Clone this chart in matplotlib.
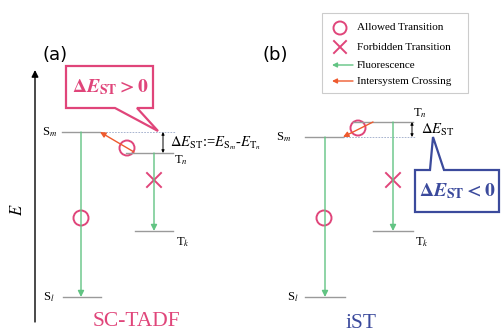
import numpy as np
import matplotlib
matplotlib.use("Agg")
import matplotlib.pyplot as plt
from matplotlib.patches import Polygon, Circle

plt.rcParams['mathtext.fontset'] = 'stix'
plt.rcParams['font.family'] = ['Liberation Serif', 'DejaVu Serif']

PINK = '#e0457a'
BLUE = '#3b4a9c'
GREEN = '#62c483'
RED = '#ee5a2e'
GREY = '#9a9a9a'

# energy levels: label, x-start, x-end, y (pixel space, y down)
levels_a = [("S$_{m}$", 62, 100, 132), ("T$_{n}$", 126, 173, 153),
            ("T$_{k}$", 135, 173, 231), ("S$_{l}$", 63, 101, 297)]
levels_b = [("S$_{m}$", 305, 343, 137), ("T$_{n}$", 353, 413, 122),
            ("T$_{k}$", 373, 413, 231), ("S$_{l}$", 305, 345, 297)]

legend_labels = ["Allowed Transition", "Forbidden Transition",
                 "Fluorescence", "Intersystem Crossing"]

fig = plt.figure(figsize=(5.01, 3.36), dpi=100)
ax = fig.add_axes([0, 0, 1, 1])
ax.set_xlim(0, 501)
ax.set_ylim(336, 0)
ax.axis('off')


def level(x0, x1, y):
    ax.plot([x0, x1], [y, y], color=GREY, lw=1)


def arrow(x0, y0, x1, y1, c, ms=9):
    ax.annotate("", xy=(x1, y1), xytext=(x0, y0),
                arrowprops=dict(arrowstyle='-|>', color=c, lw=1,
                                mutation_scale=ms, shrinkA=0, shrinkB=0))


def circ(x, y, r=7.5):
    ax.add_patch(Circle((x, y), r, fill=False, ec=PINK, lw=1.4))


def cross(x, y, s=7):
    ax.plot([x - s, x + s], [y - s, y + s], color=PINK, lw=1.4)
    ax.plot([x - s, x + s], [y + s, y - s], color=PINK, lw=1.4)


def dbl(x, y0, y1):
    ax.annotate("", xy=(x, y1), xytext=(x, y0),
                arrowprops=dict(arrowstyle='<|-|>', color='k', lw=0.7,
                                mutation_scale=4, shrinkA=0, shrinkB=0))


# energy axis
arrow(35, 322, 35, 70, 'k', ms=10)
ax.text(18, 210, "$E$", rotation=90, fontsize=12, ha='center', va='center')

# ---------- (a) SC-TADF ----------
ax.text(55, 55, "(a)", fontsize=13, family='DejaVu Sans', ha='center', va='center')
for lab, x0, x1, y in levels_a:
    level(x0, x1, y)
ax.text(50, 132, levels_a[0][0], fontsize=9, ha='center', va='center')
ax.text(181, 160, levels_a[1][0], fontsize=9, ha='center', va='center')
ax.text(183, 242, levels_a[2][0], fontsize=9, ha='center', va='center')
ax.text(49, 297, levels_a[3][0], fontsize=9, ha='center', va='center')
ax.plot([100, 175], [132, 132], color='#9aa8c8', lw=0.6, ls=(0, (2, 1.5)))

arrow(81, 132, 81, 297, GREEN)
circ(81, 218)
arrow(154, 153, 154, 231, GREEN)
cross(154, 180)
arrow(134, 152, 100, 132, RED, ms=8)
circ(127, 148)
dbl(163, 132, 153)
ax.text(170, 143, r"$\Delta E_{\rm ST}$:=$E_{{\rm S}_m}$-$E_{{\rm T}_n}$",
        fontsize=10.5, ha='left', va='center')

ax.add_patch(Polygon([(66, 66), (153, 66), (153, 108), (137, 108), (158, 131),
                      (115, 108), (66, 108)], closed=True, fc='white',
                     ec=PINK, lw=1.6, joinstyle='miter'))
ax.text(110, 87, r"$\mathbf{\Delta}\boldsymbol{E}_{\mathbf{ST}}\mathbf{>0}$",
        fontsize=14, color=PINK, ha='center', va='center')
ax.text(136, 322, "SC-TADF", fontsize=15.5, color=PINK, ha='center', va='center')

# ---------- (b) iST ----------
ax.text(275, 55, "(b)", fontsize=13, family='DejaVu Sans', ha='center', va='center')
for lab, x0, x1, y in levels_b:
    level(x0, x1, y)
ax.text(284, 137, levels_b[0][0], fontsize=9, ha='center', va='center')
ax.text(420, 113, levels_b[1][0], fontsize=9, ha='center', va='center')
ax.text(422, 242, levels_b[2][0], fontsize=9, ha='center', va='center')
ax.text(293, 297, levels_b[3][0], fontsize=9, ha='center', va='center')
ax.plot([343, 415], [137, 137], color='#9aa8c8', lw=0.6, ls=(0, (2, 1.5)))

arrow(325, 137, 325, 297, GREEN)
circ(324, 218)
arrow(393, 122, 393, 231, GREEN)
cross(393, 180)
arrow(373, 122, 343, 137, RED, ms=8)
circ(358, 128)
dbl(412, 122, 137)
ax.text(421, 130, r"$\Delta E_{\rm ST}$", fontsize=10.5, ha='left', va='center')

ax.add_patch(Polygon([(415, 170), (430, 170), (433, 137), (444, 170), (499, 170),
                      (499, 212), (415, 212)], closed=True, fc='white',
                     ec=BLUE, lw=1.6, joinstyle='miter'))
ax.text(457, 191, r"$\mathbf{\Delta}\boldsymbol{E}_{\mathbf{ST}}\mathbf{<0}$",
        fontsize=14, color=BLUE, ha='center', va='center')
ax.text(361, 323, "iST", fontsize=15.5, color=BLUE, ha='center', va='center')

# legend box
ax.add_patch(Polygon([(322, 13), (468, 13), (468, 93), (322, 93)], closed=True,
                     fc='white', ec='#cccccc', lw=0.8))
ly = [28, 47, 65, 81]
circ(340, ly[0], r=6.5)
cross(340, ly[1], s=6)
arrow(353, ly[2], 332, ly[2], GREEN, ms=7)
arrow(353, ly[3], 332, ly[3], RED, ms=7)
for y, t in zip(ly, legend_labels):
    ax.text(357, y, t, fontsize=8, ha='left', va='center')

fig.savefig("out.png", dpi=100)
